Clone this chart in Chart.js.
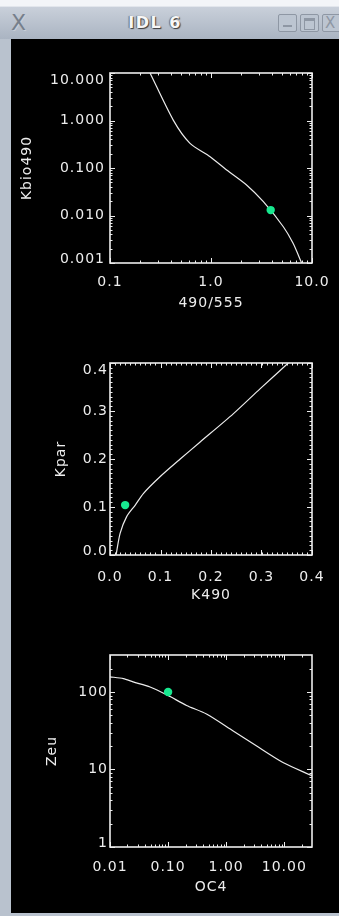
<!DOCTYPE html>
<html>
<head>
<meta charset="utf-8">
<title>IDL 6</title>
<script src="https://cdn.jsdelivr.net/npm/chart.js@4/dist/chart.umd.min.js"></script>
<style>
body { margin:0; width:339px; height:916px; overflow:hidden; position:relative; background:#b9c2ce; font-family:"DejaVu Sans", sans-serif; }
#edge { position:absolute; left:0; top:0; width:339px; height:6px; background:#f3f5f8; }
#bar { position:absolute; left:0; top:6px; width:339px; height:33px; background:linear-gradient(#c9d0da, #aab4c2); border-top:1px solid #e2e6ec; box-sizing:border-box; }
#close { position:absolute; left:11px; top:3px; font-size:22px; color:#767f8b; text-shadow:1px 1px 0 #c8ced8; }
#name { position:absolute; left:0; width:310px; top:6px; text-align:center; font-weight:bold; font-size:16px; letter-spacing:1.5px; color:#f7f7f7; text-shadow:1px 1px 1px #3a3a3a, -1px 0 1px #6a6a6a; }
.btn { position:absolute; top:7px; width:17px; height:16px; border:1.5px solid #8e97a4; border-radius:2px; background:#bcc5d1; }
.btn i { position:absolute; display:block; }
#win { position:absolute; left:11px; top:39px; width:328px; height:874px; background:#000; }
canvas { position:absolute; left:12px; }
</style>
</head>
<body>
<div id="edge"></div>
<div id="bar">
  <div id="close">X</div>
  <div id="name">IDL 6</div>
  <div class="btn" style="left:278px"><i style="left:4px;top:10px;width:9px;height:2px;background:#8e97a4"></i></div>
  <div class="btn" style="left:300px"><i style="left:3px;top:3px;width:9px;height:8px;border:1px solid #8e97a4;border-top-width:3px"></i></div>
  <div class="btn" style="left:322px"><i style="left:2px;top:-1px;font-size:15px;color:#8e97a4;font-style:normal">X</i></div>
</div>
<div id="win"></div>
<canvas id="plot1" width="327" height="276" style="top:39px"></canvas>
<canvas id="plot2" width="327" height="278" style="top:329px"></canvas>
<canvas id="plot3" width="327" height="278" style="top:621px"></canvas>
<script>
// Kbio(490) against the 490/555 band ratio
var ratio = [0.249, 0.423, 0.62, 0.98, 1.43, 2.25, 3.3, 5.2, 6.5, 7.9];
var kbio490 = [10, 1.02, 0.33, 0.173, 0.091, 0.044, 0.0195, 0.0058, 0.0026, 0.001];
var ratioPoint = [3.9];
var kbioPoint = [0.013];
var ratioTicks = [0.1, 1, 10];
var ratioLabels = ["0.1", "1.0", "10.0"];
var kbioTicks = [0.001, 0.01, 0.1, 1, 10];
var kbioLabels = ["0.001", "0.010", "0.100", "1.000", "10.000"];

// Kpar against K490
var k490 = [0.012, 0.02, 0.033, 0.05, 0.066, 0.099, 0.139, 0.178, 0.244, 0.297, 0.353];
var kpar = [0.0, 0.045, 0.08, 0.104, 0.128, 0.163, 0.2, 0.235, 0.294, 0.346, 0.4];
var k490Point = [0.03];
var kparPoint = [0.104];
var k490Ticks = [0, 0.1, 0.2, 0.3, 0.4];
var k490Labels = ["0.0", "0.1", "0.2", "0.3", "0.4"];
var kparTicks = [0, 0.1, 0.2, 0.3, 0.4];
var kparLabels = ["0.0", "0.1", "0.2", "0.3", "0.4"];

// Zeu against OC4 chlorophyll
var oc4 = [0.01, 0.017, 0.025, 0.049, 0.1, 0.208, 0.458, 1.3, 3.3, 9.5, 30];
var zeu = [157, 149, 135, 116, 90, 67, 52, 31.7, 20.2, 12.3, 8.3];
var oc4Point = [0.1];
var zeuPoint = [100];
var oc4Ticks = [0.01, 0.1, 1, 10];
var oc4Labels = ["0.01", "0.10", "1.00", "10.00"];
var zeuTicks = [1, 10, 100];
var zeuLabels = ["1", "10", "100"];

var FG = "#ededed";
var FONT = { family: "DejaVu Sans", size: 14 };

function pairs(xs, ys) {
    var out = [];
    xs.forEach(function(x, i) { out.push({ x: x, y: ys[i] }); });
    return out;
}

function minorValues(scale) {
    var out = [];
    if (scale.type === "logarithmic") {
        var d0 = Math.floor(Math.log10(scale.min)), d1 = Math.ceil(Math.log10(scale.max));
        for (var d = d0; d <= d1; d++) {
            for (var k = 2; k <= 9; k++) {
                var v = k * Math.pow(10, d);
                if (v > scale.min && v < scale.max) out.push(v);
            }
        }
    } else {
        var step = (scale.ticks[1].value - scale.ticks[0].value) / 10;
        for (var v = scale.min; v <= scale.max + 1e-9; v += step) out.push(v);
    }
    return out;
}

// IDL style frame: box on four sides, ticks pointing inwards
var idlAxes = {
    id: "idlAxes",
    beforeDraw: function(chart) {
        chart.ctx.letterSpacing = "1px";
        var a = chart.chartArea;
        chart.scales.y.getLabelItems(a).forEach(function(it) {
            var t = it.options.translation;
            t[1] = Math.min(Math.max(t[1], a.top + 7), a.bottom - 4);
        });
    },
    afterDatasetsDraw: function(chart) {
        var ctx = chart.ctx, a = chart.chartArea;
        var xs = chart.scales.x, ys = chart.scales.y;
        ctx.save();
        ctx.strokeStyle = FG;
        ctx.lineWidth = 1;
        function xTick(v, len) {
            var p = Math.round(xs.getPixelForValue(v)) + 0.5;
            ctx.moveTo(p, a.bottom); ctx.lineTo(p, a.bottom - len);
            ctx.moveTo(p, a.top); ctx.lineTo(p, a.top + len);
        }
        function yTick(v, len) {
            var p = Math.round(ys.getPixelForValue(v)) + 0.5;
            ctx.moveTo(a.left, p); ctx.lineTo(a.left + len, p);
            ctx.moveTo(a.right, p); ctx.lineTo(a.right - len, p);
        }
        ctx.beginPath();
        xs.ticks.forEach(function(t) { xTick(t.value, 5); });
        minorValues(xs).forEach(function(v) { xTick(v, 2.5); });
        ys.ticks.forEach(function(t) { yTick(t.value, 5); });
        minorValues(ys).forEach(function(v) { yTick(v, 2.5); });
        ctx.stroke();
        ctx.lineWidth = 1.6;
        ctx.strokeRect(a.left, a.top, a.right - a.left, a.bottom - a.top);
        ctx.restore();
    }
};

function axis(type, min, max, vals, labels, title, o) {
    var isX = o.pos === "x";
    return {
        type: type,
        position: isX ? "bottom" : "left",
        min: min,
        max: max,
        grid: { display: false, drawTicks: false },
        border: { display: false },
        afterBuildTicks: function(s) {
            s.ticks = vals.map(function(v) { return { value: v }; });
        },
        afterFit: function(s) {
            if (isX) s.height = 52; else s.width = 98;
        },
        ticks: {
            color: FG,
            font: FONT,
            padding: o.pad,
            autoSkip: false,
            maxRotation: 0,
            minRotation: 0,
            callback: function(v, i) { return labels[i]; }
        },
        title: {
            display: true,
            text: title,
            color: FG,
            font: FONT,
            padding: isX ? { top: 0, bottom: 3 } : { top: o.tpad, bottom: 0 }
        }
    };
}

function makePlot(id, xs, ys, px, py, xScale, yScale) {
    return new Chart(document.getElementById(id), {
        type: "scatter",
        data: {
            datasets: [
                { data: pairs(px, py), order: 0, pointRadius: 4.2, pointBackgroundColor: "#17e88f", pointBorderWidth: 0 },
                { data: pairs(xs, ys), order: 1, showLine: true, pointRadius: 0, borderColor: "#ececec", borderWidth: 1.2, tension: 0.25 }
            ]
        },
        options: {
            responsive: false,
            animation: false,
            layout: { padding: { top: 34, right: 27, left: 0, bottom: 0 } },
            plugins: { legend: { display: false }, tooltip: { enabled: false } },
            scales: { x: xScale, y: yScale }
        },
        plugins: [idlAxes]
    });
}

makePlot("plot1", ratio, kbio490, ratioPoint, kbioPoint,
    axis("logarithmic", 0.1, 10, ratioTicks, ratioLabels, "490/555", { pos: "x", pad: 11 }),
    axis("logarithmic", 0.001, 10, kbioTicks, kbioLabels, "Kbio490", { pos: "y", pad: 5, tpad: 7 }));

makePlot("plot2", k490, kpar, k490Point, kparPoint,
    axis("linear", 0, 0.4, k490Ticks, k490Labels, "K490", { pos: "x", pad: 14 }),
    axis("linear", 0, 0.4, kparTicks, kparLabels, "Kpar", { pos: "y", pad: 2, tpad: 41 }));

makePlot("plot3", oc4, zeu, oc4Point, zeuPoint,
    axis("logarithmic", 0.01, 30, oc4Ticks, oc4Labels, "OC4", { pos: "x", pad: 12 }),
    axis("logarithmic", 1, 300, zeuTicks, zeuLabels, "Zeu", { pos: "y", pad: 2, tpad: 32 }));
</script>
</body>
</html>
